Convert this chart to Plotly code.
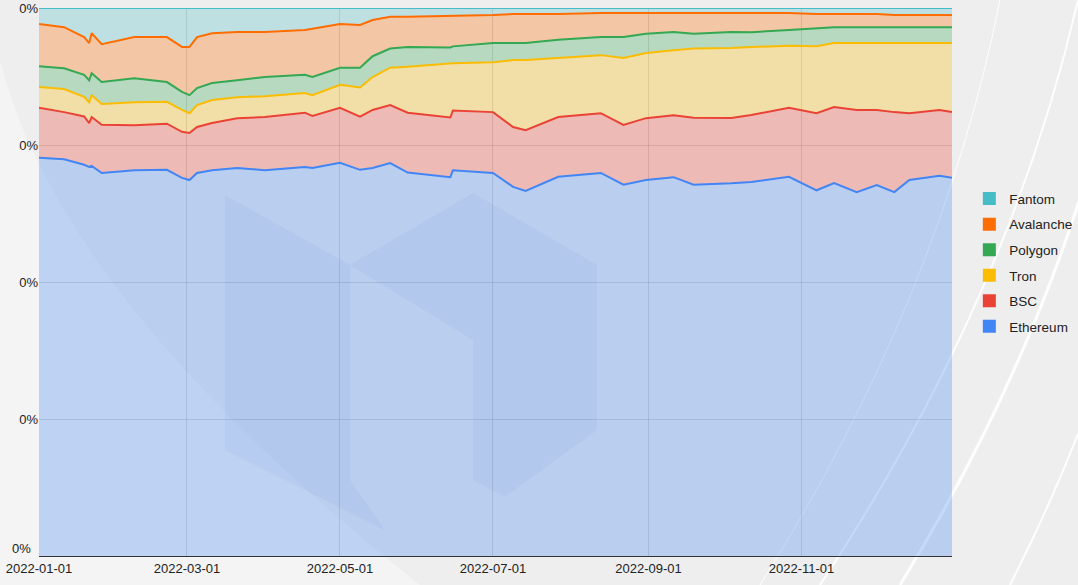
import plotly.graph_objects as go

# fechas de lectura (2022)
fechas = [
    '2022-01-01', '2022-01-11', '2022-01-19', '2022-01-21', '2022-01-22', '2022-01-26',
    '2022-02-08', '2022-02-21', '2022-02-27', '2022-03-02', '2022-03-05', '2022-03-11',
    '2022-03-21', '2022-04-01', '2022-04-17', '2022-04-20', '2022-05-01', '2022-05-09',
    '2022-05-14', '2022-05-21', '2022-05-28', '2022-06-14', '2022-06-15', '2022-07-01',
    '2022-07-09', '2022-07-14', '2022-07-27', '2022-08-13', '2022-08-22', '2022-08-31',
    '2022-09-11', '2022-09-19', '2022-10-04', '2022-10-12', '2022-10-27', '2022-11-07',
    '2022-11-14', '2022-11-23', '2022-12-01', '2022-12-08', '2022-12-14', '2022-12-26',
    '2022-12-31',
]

# participación (%) por red
ethereum = [72.6, 72.4, 71.4, 71.0, 71.2, 69.9, 70.4, 70.4, 69.0, 68.6, 69.9, 70.4,
            70.8, 70.4, 71.0, 70.8, 71.7, 70.4, 70.8, 71.7, 69.9, 69.2, 70.4, 69.9,
            67.3, 66.6, 69.2, 69.9, 67.7, 68.6, 69.2, 67.7, 68.1, 68.2, 69.2, 66.8,
            68.1, 66.4, 67.7, 66.4, 68.6, 69.3, 69.0]
bsc = [9.1, 8.6, 8.8, 8.0, 8.9, 8.8, 8.2, 8.4, 8.4, 8.6, 8.4, 8.6,
       9.1, 9.7, 9.9, 9.5, 10.0, 9.7, 10.6, 10.6, 10.9, 10.9, 10.9, 11.1,
       10.9, 11.1, 10.9, 10.9, 10.9, 11.3, 11.3, 12.2, 11.9, 12.2, 12.6, 14.1,
       13.9, 15.0, 13.7, 14.6, 12.2, 12.0, 12.0]
tron = [3.8, 4.2, 3.6, 3.8, 4.0, 3.8, 4.2, 4.0, 4.0, 3.6, 4.0, 4.2,
        3.8, 3.8, 3.6, 3.8, 4.2, 5.3, 6.0, 6.8, 8.4, 9.9, 8.6, 9.1,
        12.2, 12.8, 10.8, 10.6, 12.2, 11.9, 11.9, 12.6, 12.8, 12.4, 11.3, 12.2,
        11.7, 12.2, 12.2, 12.6, 12.8, 12.2, 12.6]
polygon = [3.8, 3.8, 4.0, 4.0, 4.0, 4.0, 4.4, 3.6, 3.3, 3.3, 3.1, 3.1,
           3.1, 3.5, 3.3, 3.3, 3.1, 3.6, 3.8, 3.5, 3.6, 2.9, 3.1, 3.5,
           3.1, 3.1, 3.3, 3.3, 3.8, 3.5, 3.3, 2.7, 2.9, 2.7, 2.9, 3.3,
           2.9, 2.9, 2.9, 2.9, 2.9, 2.9, 2.9]
avalanche = [7.7, 7.5, 6.9, 6.8, 7.3, 6.9, 7.5, 8.2, 8.2, 8.8, 9.3, 9.1,
             8.8, 8.2, 8.2, 8.8, 8.0, 7.8, 6.6, 5.8, 5.5, 5.7, 5.5, 5.1,
             5.3, 5.3, 4.7, 4.4, 4.4, 3.8, 3.5, 3.8, 3.5, 3.5, 3.1, 2.6,
             2.4, 2.4, 2.4, 2.2, 2.2, 2.2, 2.2]
fantom = [2.9, 3.5, 5.3, 6.4, 4.6, 6.6, 5.3, 5.3, 7.1, 7.1, 5.3, 4.6,
          4.4, 4.4, 4.0, 3.8, 2.9, 3.1, 2.2, 1.6, 1.6, 1.5, 1.5, 1.3,
          1.1, 1.1, 1.1, 0.9, 0.9, 0.9, 0.9, 0.9, 0.9, 0.9, 0.9, 1.1,
          1.1, 1.1, 1.1, 1.3, 1.3, 1.3, 1.3]

redes = ['Ethereum', 'BSC', 'Tron', 'Polygon', 'Avalanche', 'Fantom']
valores = [ethereum, bsc, tron, polygon, avalanche, fantom]
colores = ['#4285F4', '#EA4335', '#FBBC04', '#34A853', '#FF6D01', '#46BDC6']
rellenos = ['rgba(66,133,244,0.30)', 'rgba(234,67,53,0.30)', 'rgba(251,188,4,0.30)',
            'rgba(52,168,83,0.30)', 'rgba(255,109,1,0.30)', 'rgba(70,189,198,0.28)']


def px(x):  # pixel -> paper (x)
    return (x - 39) / 913


def py(y):  # pixel -> paper (y)
    return (556 - y) / 548


fig = go.Figure()

for red, vals, col, fill in zip(redes, valores, colores, rellenos):
    fig.add_trace(go.Scatter(
        x=fechas, y=vals, name=red, mode='lines',
        stackgroup='uno', groupnorm='percent' if red == 'Ethereum' else None,
        line=dict(color=col, width=2), fillcolor=fill,
        showlegend=False,
    ))

# leyenda con cuadrados (Fantom arriba)
for red, col in reversed(list(zip(redes, colores))):
    fig.add_trace(go.Scatter(
        x=[None], y=[None], mode='markers', name=red,
        marker=dict(symbol='square', size=13, color=col),
        legendgroup=red, showlegend=True,
    ))

# fondo: curvas blancas y marca de agua (cubo)
shapes = []
for x0, x1, w in [(820, 1078, 2), (900, 1130, 3), (1010, 1180, 2), (760, 1000, 1)]:
    shapes.append(dict(type='path', xref='paper', yref='paper', layer='below',
                       path=f'M {px(x1)},{py(0)} Q {px((x0 + x1) / 2 + 60)},{py(300)} {px(x0)},{py(585)}',
                       line=dict(color='rgba(255,255,255,0.9)', width=w)))
shapes.append(dict(type='path', xref='paper', yref='paper', layer='below',
                   path=f'M {px(0)},{py(585)} L {px(0)},{py(60)} Q {px(60)},{py(300)} {px(420)},{py(585)} Z',
                   fillcolor='rgba(255,255,255,0.35)', line=dict(width=0)))
cubo = [
    [(225, 195), (350, 265), (350, 480), (385, 530), (225, 450)],
    [(350, 265), (473, 193), (597, 265), (473, 340)],
    [(473, 340), (597, 265), (597, 430), (505, 497), (473, 480)],
]
for poly in cubo:
    path = 'M ' + ' L '.join(f'{px(a)},{py(b)}' for a, b in poly) + ' Z'
    shapes.append(dict(type='path', xref='paper', yref='paper', layer='above',
                       path=path, fillcolor='rgba(40,90,200,0.05)', line=dict(width=0)))

fig.update_layout(
    width=1078, height=585,
    margin=dict(l=39, r=126, t=8, b=29, autoexpand=False),
    paper_bgcolor='#eeeeee',
    plot_bgcolor='rgba(0,0,0,0)',
    font=dict(family='Liberation Sans, Arial, sans-serif', size=13, color='#222222'),
    shapes=shapes,
    showlegend=True,
    legend=dict(x=1.019, xanchor='left', y=0.535, yanchor='middle',
                traceorder='grouped', tracegroupgap=5,
                bgcolor='rgba(0,0,0,0)', font=dict(size=13.5, color='#222222')),
    annotations=[dict(text='0%', xref='paper', yref='paper', x=px(33), y=py(548),
                      xanchor='right', yanchor='middle', showarrow=False,
                      font=dict(size=13, color='#222222'))],
    hovermode='x',
)

fig.update_xaxes(
    type='date', range=['2022-01-01', '2022-12-31'],
    tickvals=['2022-01-01', '2022-03-01', '2022-05-01', '2022-07-01', '2022-09-01', '2022-11-01'],
    tickformat='%Y-%m-%d', showgrid=True, gridcolor='rgba(120,120,120,0.25)',
    showline=True, linecolor='#333333', linewidth=1, ticks='', zeroline=False,
    automargin=False,
)
fig.update_yaxes(
    range=[0, 100], tickvals=[25, 50, 75, 100], ticktext=['0%'] * 4,
    showgrid=True, gridcolor='rgba(120,120,120,0.25)', zeroline=False, ticks='',
    automargin=False,
)

fig.write_html('out.html', config={'displayModeBar': False},
               post_script="document.body.style.margin='0px';")
